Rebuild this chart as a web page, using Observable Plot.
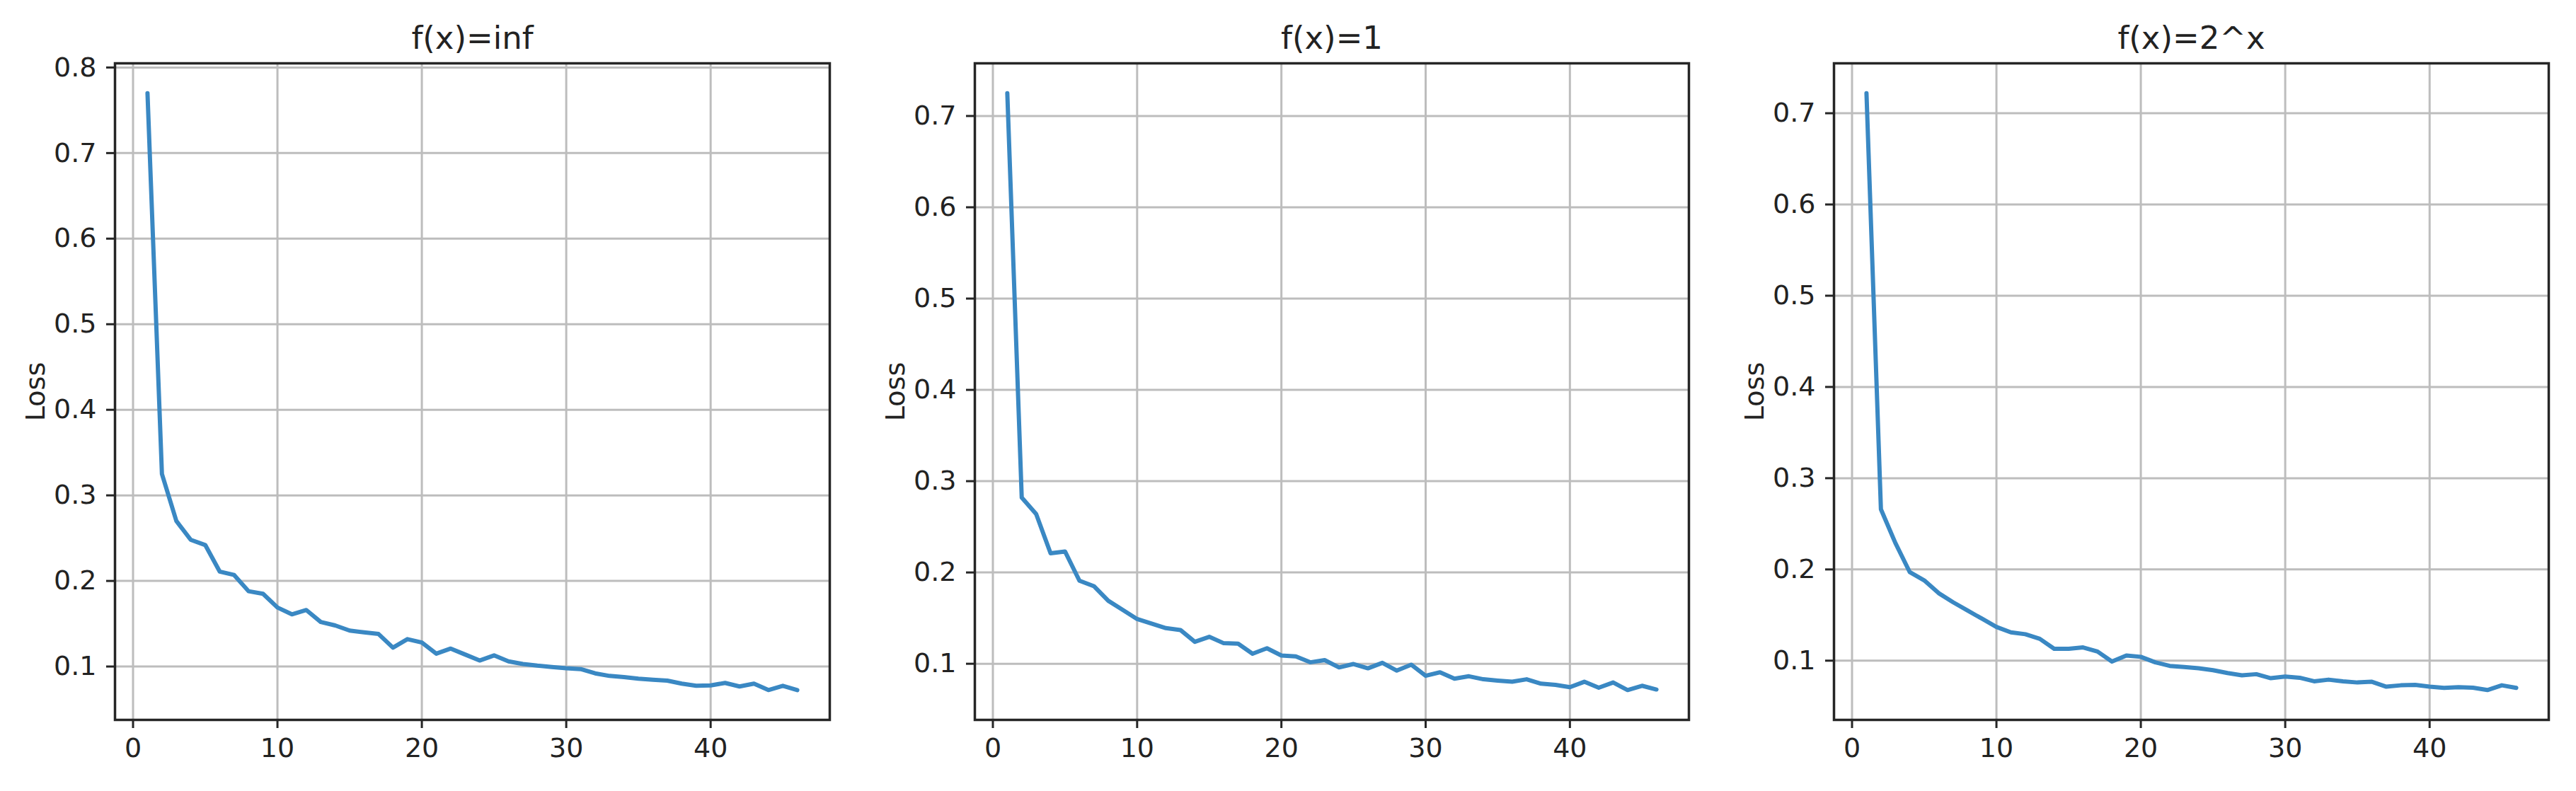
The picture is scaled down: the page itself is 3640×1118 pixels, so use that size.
<!DOCTYPE html>
<html>
<head>
<meta charset="utf-8">
<script src="https://cdn.jsdelivr.net/npm/d3@7"></script>
<script src="https://cdn.jsdelivr.net/npm/@observablehq/plot@0.6"></script>
<style>
  html, body { margin: 0; padding: 0; background: #fff; }
  #row { display: flex; flex-direction: row; width: 3640px; height: 1118px; }
  #row svg { display: block; background: #fff; }
</style>
</head>
<body>
<div id="row"></div>
<script>
const epochs = [1,2,3,4,5,6,7,8,9,10,11,12,13,14,15,16,17,18,19,20,21,22,23,24,25,26,27,28,29,30,31,32,33,34,35,36,37,38,39,40,41,42,43,44,45,46];

const titles = ["f(x)=inf", "f(x)=1", "f(x)=2^x"];

const lossInf = [0.770,0.325,0.270,0.248,0.242,0.211,0.207,0.188,0.185,0.169,0.161,0.166,0.152,0.148,0.142,0.140,0.138,0.122,0.132,0.128,0.115,0.121,0.114,0.107,0.113,0.106,0.103,0.101,0.0995,0.098,0.097,0.092,0.089,0.0876,0.0857,0.0846,0.0835,0.080,0.0775,0.078,0.0808,0.0767,0.080,0.0725,0.0775,0.0725];

const lossOne = [0.725,0.282,0.264,0.221,0.223,0.191,0.185,0.169,0.159,0.149,0.144,0.139,0.137,0.124,0.1295,0.1225,0.122,0.111,0.117,0.109,0.108,0.1016,0.104,0.096,0.0997,0.095,0.101,0.0925,0.099,0.0868,0.0907,0.0837,0.0863,0.083,0.0816,0.0803,0.083,0.0782,0.0769,0.0743,0.0803,0.0738,0.0795,0.0712,0.0759,0.0718];

const lossExp = [0.722,0.266,0.229,0.197,0.188,0.174,0.164,0.155,0.146,0.137,0.131,0.129,0.124,0.113,0.113,0.1145,0.110,0.099,0.1057,0.1042,0.0982,0.0943,0.093,0.0917,0.0896,0.0865,0.084,0.0852,0.0808,0.0826,0.0813,0.0774,0.0792,0.0774,0.0761,0.0769,0.0715,0.073,0.0735,0.0715,0.0702,0.071,0.0704,0.0678,0.073,0.0702];

const xTicks = [0, 10, 20, 30, 40];
const yTicksInf = [0.1, 0.2, 0.3, 0.4, 0.5, 0.6, 0.7, 0.8];
const yTicksOther = [0.1, 0.2, 0.3, 0.4, 0.5, 0.6, 0.7];

const panels = [
  {title: titles[0], values: lossInf, yTicks: yTicksInf, marginLeft: 162, marginRight: 20, inner: 1010},
  {title: titles[1], values: lossOne, yTicks: yTicksOther, marginLeft: 185, marginRight: 20, inner: 1009},
  {title: titles[2], values: lossExp, yTicks: yTicksOther, marginLeft: 185, marginRight: 39, inner: 1010}
];

function padded(ext) {
  const r = ext[1] - ext[0];
  return [ext[0] - 0.05 * r, ext[1] + 0.05 * r];
}

const row = document.getElementById("row");
const font = "DejaVu Sans, Liberation Sans, sans-serif";
const lineColor = "#3a88c3";

for (const p of panels) {
  const data = epochs.map((e, i) => ({epoch: e, loss: p.values[i]}));
  const chart = Plot.plot({
    width: p.marginLeft + p.inner + p.marginRight,
    height: 1118,
    marginTop: 89,
    marginBottom: 101,
    marginLeft: p.marginLeft,
    marginRight: p.marginRight,
    style: {fontFamily: font, fontSize: "38px", color: "#222", background: "#fff"},
    x: {domain: padded(d3.extent(epochs))},
    y: {domain: padded(d3.extent(p.values))},
    marks: [
      Plot.gridX(xTicks, {stroke: "#bdbdbd", strokeWidth: 3, strokeOpacity: 1}),
      Plot.gridY(p.yTicks, {stroke: "#bdbdbd", strokeWidth: 3, strokeOpacity: 1}),
      Plot.line(data, {x: "epoch", y: "loss", stroke: lineColor, strokeWidth: 6, strokeLinejoin: "round"}),
      Plot.frame({stroke: "#262626", strokeWidth: 3.5}),
      Plot.axisX(xTicks, {tickSize: 12, tickPadding: 14, strokeWidth: 3, stroke: "#262626", label: null, fontSize: 38, fill: "#222"}),
      Plot.axisY(p.yTicks, {tickSize: 12, tickPadding: 14, strokeWidth: 3, stroke: "#262626", label: null, tickFormat: d3.format(".1f"), fontSize: 38, fill: "#222"}),
      Plot.text([p.title], {frameAnchor: "top", dy: -35, lineAnchor: "middle", textAnchor: "middle", fontSize: 45, fill: "#222"}),
      Plot.text(["Loss"], {frameAnchor: "left", dx: -112, rotate: -90, lineAnchor: "middle", textAnchor: "middle", fontSize: 38, fill: "#222"})
    ]
  });
  row.appendChild(chart);
}
</script>
</body>
</html>
